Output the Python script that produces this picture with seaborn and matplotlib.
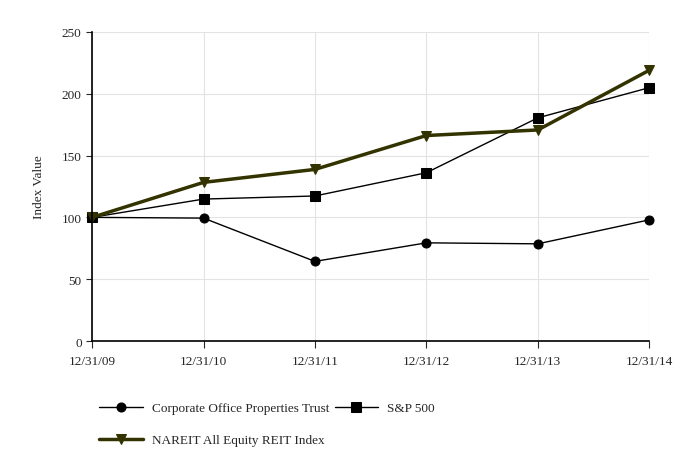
import numpy as np
import pandas as pd
import matplotlib
matplotlib.use("Agg")
import matplotlib.pyplot as plt
import seaborn as sns

dates = ["12/31/09", "12/31/10", "12/31/11", "12/31/12", "12/31/13", "12/31/14"]
copt = [100, 99.4, 64.4, 79.4, 78.6, 98.0]
sp500 = [100, 114.8, 117.3, 136.1, 180.5, 204.9]
nareit = [100, 128.3, 138.8, 166.2, 170.7, 219.0]

sns.set_style("white")
plt.rcParams["font.family"] = ["Liberation Serif", "DejaVu Serif"]

fig = plt.figure(figsize=(6.82, 4.77), dpi=100)
ax = fig.add_axes([0.135, 0.283, 0.817, 0.648])

x = np.arange(len(dates))
df = pd.DataFrame({"x": x, "copt": copt, "sp": sp500, "nareit": nareit})

sns.lineplot(data=df, x="x", y="copt", ax=ax, color="black", lw=1,
             marker="o", markersize=6.5, markeredgecolor="black",
             label="Corporate Office Properties Trust", clip_on=False)
sns.lineplot(data=df, x="x", y="sp", ax=ax, color="black", lw=1,
             marker="s", markersize=6.5, markeredgecolor="black",
             label="S&P 500", clip_on=False)
sns.lineplot(data=df, x="x", y="nareit", ax=ax, color="#333300", lw=2.5,
             marker="v", markersize=6.5, markeredgecolor="#333300",
             label="NAREIT All Equity REIT Index", clip_on=False)

ax.set_xlim(0, len(dates) - 1)
ax.set_ylim(0, 250)
ax.set_xticks(x)
ax.set_xticklabels(dates, fontsize=9.5)
ax.set_yticks([0, 50, 100, 150, 200, 250])
ax.tick_params(axis="y", labelsize=9.5, length=4, direction="out", left=True)
ax.tick_params(axis="x", length=5, direction="out", bottom=True, pad=5)
ax.set_xlabel("")
ax.set_ylabel("Index Value", fontsize=9.5, labelpad=12)
ax.grid(True, color="#e3e3e3", lw=0.8)
ax.set_axisbelow(True)
for s in ["top", "right"]:
    ax.spines[s].set_visible(False)
for s in ["left", "bottom"]:
    ax.spines[s].set_color("black")
    ax.spines[s].set_linewidth(1.2)

h, l = ax.get_legend_handles_labels()
ax.get_legend().remove()
order = [0, 2, 1]
fig.legend([h[i] for i in order], [l[i] for i in order], ncol=2,
           loc="upper left", bbox_to_anchor=(0.128, 0.18), frameon=False,
           fontsize=9.5, handlelength=3.3, columnspacing=0.4,
           labelspacing=1.5, handletextpad=0.7)

fig.savefig("out.png", dpi=100)
